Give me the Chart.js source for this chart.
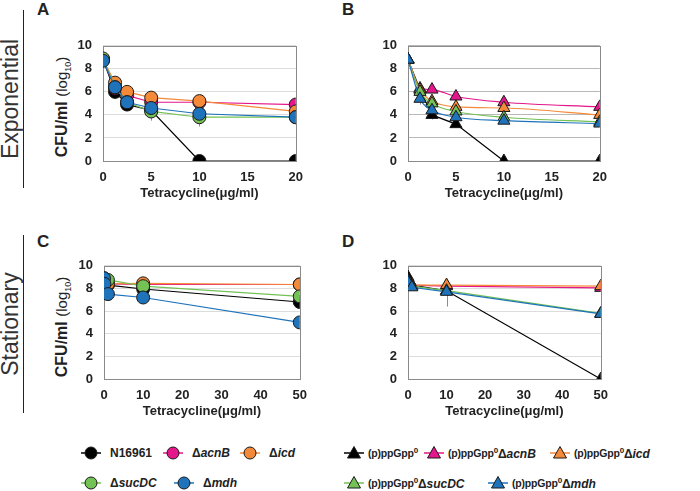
<!DOCTYPE html>
<html>
<head>
<meta charset="utf-8">
<script src="https://cdn.jsdelivr.net/npm/chart.js@4.4.1/dist/chart.umd.min.js"></script>
<style>
  body { margin: 0; background: #fff; width: 700px; height: 491px; position: relative; overflow: hidden;
         font-family: "Liberation Sans", Arial, sans-serif; color: #222; }
  canvas { position: absolute; }
  .abs { position: absolute; white-space: nowrap; }
  .rot { transform: translate(-50%, -50%) rotate(-90deg); }
  .phase { font-size: 23px; color: #333; }
  .vline { position: absolute; width: 1px; background: #222; }
  .letter { font-size: 17px; font-weight: bold; }
  .ytitle { font-size: 16px; font-weight: bold; }
  .ytitle span { font-weight: normal; font-size: 15px; }
  .ytitle sub { font-size: 9px; }
  .leg { font-size: 12px; font-weight: bold; display: flex; align-items: center; height: 14px; }
  .leg sup { font-size: 8px; }
  .leg i { font-style: italic; }
  .leg .pp { font-size: 10.5px; letter-spacing: -0.2px; }
</style>
</head>
<body>
<div class="vline" style="left:23px; top:10px; height:178px;"></div>
<div class="vline" style="left:23px; top:235px; height:178px;"></div>
<div class="abs rot phase" style="left:10px; top:99px;">Exponential</div>
<div class="abs rot phase" style="left:10px; top:324px;">Stationary</div>

<div class="abs letter" style="left:37px; top:0px;">A</div>
<div class="abs letter" style="left:342px; top:0px;">B</div>
<div class="abs letter" style="left:37px; top:232px;">C</div>
<div class="abs letter" style="left:342px; top:232px;">D</div>

<div class="abs rot ytitle" style="left:63px; top:107px;">CFU/ml <span>(log<sub>10</sub>)</span></div>
<div class="abs rot ytitle" style="left:63px; top:327px;">CFU/ml <span>(log<sub>10</sub>)</span></div>

<canvas id="chartA" width="242" height="178" style="left:70px; top:27px;"></canvas>
<canvas id="chartB" width="241" height="178" style="left:375px; top:27px;"></canvas>
<canvas id="chartC" width="245" height="176" style="left:71px; top:247px;"></canvas>
<canvas id="chartD" width="242" height="176" style="left:375px; top:247px;"></canvas>

<div id="legend"></div>

<script>
// x values (tetracycline, µg/ml)
var xExp = [0, 1.25, 2.5, 5, 10, 20];
var xSta = [0, 0.1, 1, 10, 50];

var namesWt = ["N16961", "ΔacnB", "Δicd", "ΔsucDC", "Δmdh"];
var namesPpg = ["(p)ppGpp0", "(p)ppGpp0ΔacnB", "(p)ppGpp0Δicd", "(p)ppGpp0ΔsucDC", "(p)ppGpp0Δmdh"];
var colors = ["#000000", "#e4168b", "#f5893a", "#74c156", "#1f73bb"];

// Panel A: exponential, wild-type background
var a_wt   = [8.8, 6.0, 4.9, 4.4, 0, 0];
var a_acnB = [8.8, 6.3, 5.7, 5.1, 5.1, 4.9];
var a_icd  = [8.8, 6.8, 6.0, 5.5, 5.2, 4.3];
var a_suc  = [8.9, 6.4, 5.1, 4.3, 3.8, 3.8];
var a_mdh  = [8.7, 6.4, 5.1, 4.6, 4.1, 3.8];

// Panel B: exponential, (p)ppGpp0 background
var b_ppg  = [8.8, 6.2, 4.0, 3.2, 0, 0];
var b_acnB = [8.8, 6.3, 6.2, 5.6, 5.1, 4.7];
var b_icd  = [8.8, 6.2, 5.2, 4.7, 4.6, 4.0];
var b_suc  = [8.8, 6.0, 5.0, 4.3, 3.8, 3.4];
var b_mdh  = [8.8, 5.4, 4.4, 3.8, 3.5, 3.25];

// Panel C: stationary, wild-type background
var c_wt   = [8.7, 8.4, 8.3, 7.95, 6.8];
var c_acnB = [8.5, 8.4, 8.4, 8.35, 8.35];
var c_icd  = [8.6, 8.5, 8.4, 8.45, 8.35];
var c_suc  = [8.9, 8.8, 8.75, 8.2, 7.3];
var c_mdh  = [8.9, 8.4, 7.5, 7.2, 5.0];

// Panel D: stationary, (p)ppGpp0 background
var d_ppg  = [9.0, 8.6, 8.3, 7.8, 0];
var d_acnB = [8.6, 8.4, 8.3, 8.2, 8.05];
var d_icd  = [8.6, 8.4, 8.3, 8.3, 8.2];
var d_suc  = [8.6, 8.4, 8.2, 7.8, 5.8];
var d_mdh  = [8.7, 8.5, 8.1, 7.7, 5.75];

// lower error bars
var errA_wt  = [0, 0.2, 0.2, 0, 0, 0];
var errA_suc = [0, 0, 0, 0.8, 0.8, 0];
var errA_mdh = [0, 0, 0, 0.3, 0, 0.5];
var errB_ppg = [0, 0, 0.4, 0, 0, 0];
var errB_mdh = [0, 0.5, 0, 0, 0, 3.25];
var errD_mdh = [0, 0, 0, 1.3, 1.3];

Chart.defaults.font.family = '"Liberation Sans", Arial, sans-serif';
Chart.defaults.color = '#222';

// frame around the plot area, drawn under the points
var framePlugin = {
    id: 'frame',
    beforeDatasetsDraw: function (chart) {
        var a = chart.chartArea, ctx = chart.ctx;
        ctx.save();
        ctx.strokeStyle = '#8a8a8a';
        ctx.lineWidth = 1;
        ctx.strokeRect(Math.round(a.left) + 0.5, Math.round(a.top) + 0.5,
            Math.round(a.right - a.left), Math.round(a.bottom - a.top));
        ctx.restore();
    }
};

// minus-only error bars
var errorPlugin = {
    id: 'errbars',
    beforeDatasetsDraw: function (chart) {
        var ctx = chart.ctx, xs = chart.scales.x, ys = chart.scales.y;
        ctx.save();
        ctx.strokeStyle = '#8c8c8c';
        ctx.lineWidth = 1;
        chart.data.datasets.forEach(function (ds) {
            if (!ds.err) return;
            ds.data.forEach(function (p, i) {
                if (!ds.err[i]) return;
                var px = Math.round(xs.getPixelForValue(p.x)) + 0.5;
                ctx.beginPath();
                ctx.moveTo(px, ys.getPixelForValue(p.y));
                ctx.lineTo(px, ys.getPixelForValue(p.y - ds.err[i]));
                ctx.stroke();
            });
        });
        ctx.restore();
    }
};

// smooth: smoothed lines for the mutant series (black parent line stays straight)
function makeChart(id, xs, series, errs, style, xmax, xstep, gridColor, smooth) {
    var datasets = series.map(function (ys, k) {
        return {
            data: ys.map(function (v, i) { return { x: xs[i], y: v }; }),
            err: errs[k],
            borderColor: colors[k],
            backgroundColor: colors[k],
            borderWidth: 1.2,
            pointStyle: style,
            pointRadius: style === 'triangle' ? 7 : 6.5,
            pointBorderColor: '#1a1a1a',
            pointBorderWidth: 1,
            cubicInterpolationMode: (smooth && k > 0) ? 'monotone' : 'default',
            tension: 0,
            order: 4 - k
        };
    });
    new Chart(document.getElementById(id), {
        type: 'line',
        data: { datasets: datasets },
        plugins: [framePlugin, errorPlugin],
        options: {
            responsive: false,
            animation: false,
            events: [],
            layout: { padding: { top: 8, right: 10, left: 0, bottom: 0 } },
            plugins: { legend: { display: false }, tooltip: { enabled: false } },
            scales: {
                x: {
                    type: 'linear', min: 0, max: xmax,
                    grid: { display: false, drawTicks: false },
                    border: { display: false },
                    ticks: { stepSize: xstep, padding: 9, font: { size: 13, weight: 'bold' } },
                    title: { display: true, text: 'Tetracycline(μg/ml)', padding: { top: 4, bottom: 4 },
                             font: { size: 13, weight: 'bold' } },
                    afterFit: function (s) { s.height = 44; }
                },
                y: {
                    min: 0, max: 10,
                    grid: { color: gridColor, drawTicks: false },
                    border: { display: false },
                    ticks: { stepSize: 2, padding: 11, font: { size: 13, weight: 'bold' } },
                    afterFit: function (s) { s.width = 33; }
                }
            }
        }
    });
}

makeChart('chartA', xExp, [a_wt, a_acnB, a_icd, a_suc, a_mdh],
    [errA_wt, null, null, errA_suc, errA_mdh], 'circle', 20, 5, '#dcdcdc', false);
makeChart('chartB', xExp, [b_ppg, b_acnB, b_icd, b_suc, b_mdh],
    [errB_ppg, null, null, null, errB_mdh], 'triangle', 20, 5, '#b8b8b8', true);
makeChart('chartC', xSta, [c_wt, c_acnB, c_icd, c_suc, c_mdh],
    [null, null, null, null, null], 'circle', 50, 10, '#dcdcdc', false);
makeChart('chartD', xSta, [d_ppg, d_acnB, d_icd, d_suc, d_mdh],
    [null, null, null, null, errD_mdh], 'triangle', 50, 10, '#dcdcdc', false);

// legends (HTML)
function marker(color, shape) {
    var s = '<svg width="20" height="14">' +
        '<line x1="0" y1="7" x2="20" y2="7" stroke="' + color + '" stroke-width="1.5"/>';
    if (shape === 'circle') {
        s += '<circle cx="10" cy="7" r="6" fill="' + color + '" stroke="#1a1a1a" stroke-width="1"/>';
    } else {
        s += '<polygon points="10,0.5 16.5,12 3.5,12" fill="' + color + '" stroke="#1a1a1a" stroke-width="1"/>';
    }
    return s + '</svg>';
}
function label(name) {
    // "0" after ppGpp is a superscript; the gene name after Δ is italic
    var html = name.replace('(p)ppGpp0', '<span class="pp">(p)ppGpp<sup>0</sup></span>');
    return html.replace(/Δ(\w+)/, 'Δ<i>$1</i>');
}
var legendPos = [
    // left x of the marker and row centre y, wild-type group then (p)ppGpp0 group
    [[81, 453], [163, 453], [240, 453], [81, 483], [174, 483]],
    [[344, 453], [424, 453], [550, 453], [344, 483], [488, 483]]
];
var leg = document.getElementById('legend');
[namesWt, namesPpg].forEach(function (names, g) {
    names.forEach(function (n, k) {
        var d = document.createElement('div');
        d.className = 'abs leg';
        d.style.left = legendPos[g][k][0] + 'px';
        d.style.top = (legendPos[g][k][1] - 7) + 'px';
        d.innerHTML = marker(colors[k], g === 0 ? 'circle' : 'triangle') +
            '<span style="margin-left:' + (g === 0 ? 9 : 4) + 'px">' + label(n) + '</span>';
        leg.appendChild(d);
    });
});
</script>
</body>
</html>
